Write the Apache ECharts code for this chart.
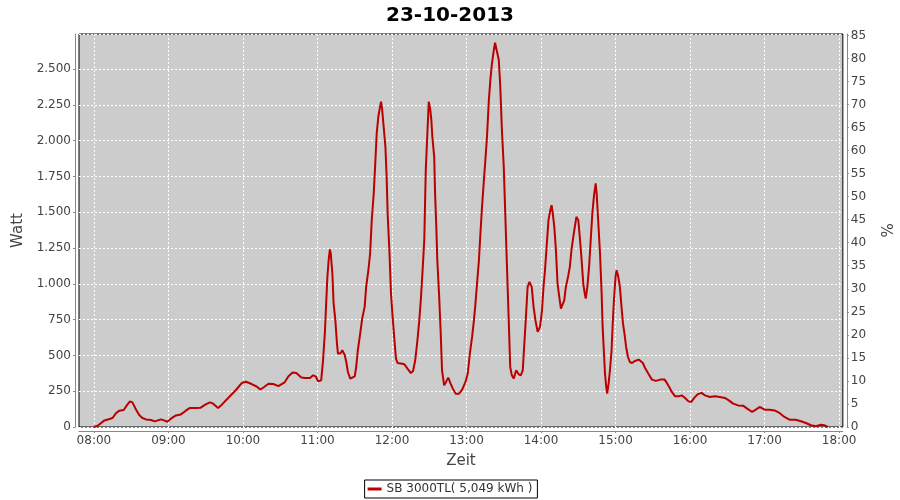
<!DOCTYPE html>
<html>
<head>
<meta charset="utf-8">
<script src="https://cdn.jsdelivr.net/npm/echarts@6/dist/echarts.min.js"></script>
<style>html,body{margin:0;padding:0;background:#fff}#c{width:900px;height:500px}</style>
</head>
<body>
<div id="c"></div>
<script>
// minutes after 08:00
const minutesSince0800 = [
0,3,8.5,12.5,15,18,20.5,24,26.5,29,31,34,36.5,39,42,46,49,54,56.5,59,62,66,70,74,77,82,86,90,93.5,96,100,103,108.5,114,119,122.5,127,131,134,136.5,140.5,144.5,148.5,153.5,156.5,160,163,
167,170,174,176.5,178.5,180.5,182,183,184.5,186,187,188,189,190,190.7,192,193,194.4,195.7,196.5,198.4,200,202,203.2,204.5,206.4,207.7,210,211.2,212.5,214.4,216,218,219.2,221,222.4,223.7,225.3,226.4,227.7,229,230.4,231.2,232,233.3,234.7,235.7,236.5,238,239.2,240.5,242,243.2,244.5,247.2,250,252.5,255.2,257,258.7,260.5,262,263.2,264.5,266,267.2,268.5,269.6,270.7,271.7,272.5,274,274.7,275.7,276.5,278,279.2,280.3,282,283.5,285.3,287.2,289,291.2,294,296.5,299.2,301,302.7,304.5,306,307.2,308.5,310,311.2,312.5,314,315.2,316.5,318,319.2,320.5,322,323,324.5,326,327.2,328.5,330,331.2,332.5,334,335.2,336.5,338,340,342,343.7,345.3,346.4,347.7,
349.2,350.7,352.5,354,355.5,357.3,359.2,360.8,362,363.2,364.5,366,367.2,368.5,369.3,370.7,372,373.3,374.7,376,377.3,378.7,380,382,383.2,384.5,386,387.2,388.5,390,391.2,392.5,394,395.2,396,397.3,398.7,400,401.3,402.7,404,404.8,406,407.5,408.8,409.6,410.7,411.5,412.5,413.3,414.4,415.5,416.8,417.6,418.7,420,420.8,422,423.5,424.8,426,427.2,428.5,430,431.5,433.3,435.5,438.7,442,444,446.7,449.3,452.5,456,459.5,461.3,463.2,465.3,468,470.7,473.3,476,478.7,481,483.5,486,489.3,492,496,500,504,508,511.2,514.7,518.7,522.7,526,530,533.3,536,540,544,548,552,556,560,565,569.3,573.3,577.3,581.3,585.3,588,591
];
const wattValues = [
0,9,46,56,63,98,114,119,151,179,172,121,84,63,53,49,39,53,46,37,58,81,88,114,132,132,135,158,172,163,132,156,206,255,307,316,300,283,262,276,302,300,286,311,353,381,377,
345,342,342,361,354,319,308,326,466,664,862,1048,1165,1240,1212,1072,862,746,583,513,513,536,501,454,384,338,326,354,419,536,652,757,839,979,1095,1212,1445,1631,1817,2050,2167,2237,2272,2225,2097,1957,1748,1491,1212,932,769,606,478,447,443,438,408,377,391,466,606,746,885,1072,1305,1794,2050,2272,2225,2144,2027,1887,1631,1398,1165,909,664,396,291,315,345,303,268,233,233,261,315,373,513,629,746,862,1002,1165,1351,1538,1724,1864,2027,2283,2423,2540,2633,2684,2675,2563,2377,2074,1817,1491,1142,746,419,361,338,396,368,361,396,559,746,
979,1014,979,839,746,664,699,816,979,1095,1258,1445,1503,1549,1503,1398,1235,1002,909,827,839,885,979,1060,1118,1235,1328,1398,1468,1445,1328,1188,1002,932,897,979,1118,1305,1491,1619,1701,1631,1445,1212,932,699,513,373,280,233,303,396,536,699,885,1048,1095,1060,979,839,722,652,559,489,454,447,461,471,447,408,368,331,322,331,331,308,280,245,214,214,221,203,179,175,205,228,238,221,210,214,210,203,186,163,151,149,128,105,123,140,121,121,116,98,70,51,51,40,28,12,5,16,12,0
];
const hourTicks = [0,60,120,180,240,300,360,420,480,540,600];
const titleText = '23-10-2013';
const seriesName = 'SB 3000TL( 5,049 kWh )';

const FONT = 'DejaVu Sans';
const fmtThousands = v => String(v).replace(/\B(?=(\d{3})+(?!\d))/g, '.');
const fmtTime = m => { const h = 8 + Math.floor(m / 60); const mm = Math.round(m % 60); return (h < 10 ? '0' : '') + h + ':' + (mm < 10 ? '0' : '') + mm; };

const chart = echarts.init(document.getElementById('c'), null, {renderer: 'canvas'});
chart.setOption({
  animation: false,
  backgroundColor: '#ffffff',
  title: {
    text: titleText, left: 'center', top: 1,
    textStyle: {fontFamily: FONT, fontSize: 20, fontWeight: 'bold', color: '#000'}
  },
  legend: {
    bottom: 2, left: 'center',
    data: [seriesName],
    icon: 'rect', itemWidth: 14, itemHeight: 3, itemGap: 4,
    borderColor: '#000', borderWidth: 1, backgroundColor: '#fff', padding: [3, 5, 3, 3],
    textStyle: {fontFamily: FONT, fontSize: 12, color: '#333'}
  },
  grid: {
    left: 79, right: 52, top: 34, bottom: 73,
    show: true, backgroundColor: '#cccccc', borderColor: '#000', borderWidth: 1
  },
  xAxis: {
    type: 'value', min: -12, max: 603, offset: 4,
    name: 'Zeit', nameLocation: 'middle', nameGap: 23,
    nameTextStyle: {fontFamily: FONT, fontSize: 15, color: '#444'},
    axisLine: {show: true, onZero: false, lineStyle: {color: '#888', width: 1}},
    axisTick: {show: true, length: 2, customValues: hourTicks, lineStyle: {color: '#888'}},
    axisLabel: {customValues: hourTicks, formatter: fmtTime, fontFamily: FONT, fontSize: 12, color: '#444', margin: 4},
    splitLine: {show: true, lineStyle: {color: '#ffffff', type: [2, 2], width: 1}}
  },
  yAxis: [{
    type: 'value', min: 0, max: 2745, interval: 250, offset: 4, position: 'left',
    name: 'Watt', nameLocation: 'middle', nameGap: 43,
    nameTextStyle: {fontFamily: FONT, fontSize: 15, color: '#444'},
    axisLine: {show: true, onZero: false, lineStyle: {color: '#888', width: 1}},
    axisTick: {show: true, length: 2, lineStyle: {color: '#888'}},
    axisLabel: {formatter: fmtThousands, fontFamily: FONT, fontSize: 12, color: '#444', margin: 4, showMaxLabel: false},
    splitLine: {show: true, lineStyle: {color: '#ffffff', type: [2, 2], width: 1}}
  }, {
    type: 'value', min: 0, max: 85.3, interval: 5, offset: 4, position: 'right',
    name: '%', nameLocation: 'middle', nameGap: 22, nameRotate: -90,
    nameTextStyle: {fontFamily: FONT, fontSize: 15, color: '#444'},
    axisLine: {show: true, onZero: false, lineStyle: {color: '#888', width: 1}},
    axisTick: {show: true, length: 2, lineStyle: {color: '#888'}},
    axisLabel: {fontFamily: FONT, fontSize: 12, color: '#444', margin: 4, showMaxLabel: false},
    splitLine: {show: false}
  }],
  series: [{
    name: seriesName, type: 'line', yAxisIndex: 0,
    data: minutesSince0800.map((t, i) => [t, wattValues[i]]),
    showSymbol: false, symbol: 'none',
    lineStyle: {color: '#bb0000', width: 2},
    itemStyle: {color: '#bb0000'}
  }]
});
</script>
</body>
</html>
